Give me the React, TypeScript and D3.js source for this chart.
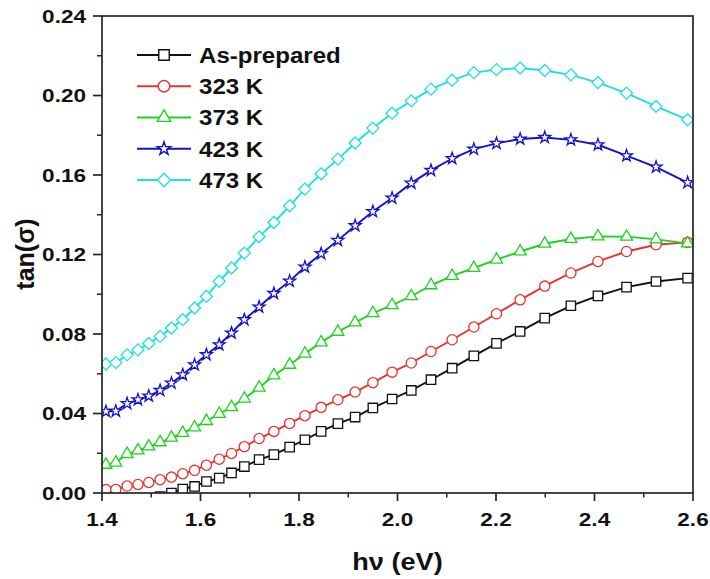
import React, { useEffect, useRef } from 'react';
import * as d3 from 'd3';

// photon energy (eV), same for all samples
const hv = [1.408, 1.428, 1.451, 1.473, 1.495, 1.518, 1.541, 1.564, 1.588, 1.612,
  1.638, 1.663, 1.689, 1.719, 1.749, 1.781, 1.812, 1.845, 1.879, 1.914,
  1.950, 1.989, 2.028, 2.068, 2.111, 2.155, 2.201, 2.249, 2.299, 2.352,
  2.407, 2.465, 2.525, 2.589];

// tan(sigma)
const asPrepared = [-0.012, -0.0095, -0.0075, -0.0055, -0.0035, -0.0018, 0.0000, 0.0020, 0.0033, 0.0058,
  0.0075, 0.0101, 0.0133, 0.0168, 0.0193, 0.0231, 0.0268, 0.0310, 0.0349, 0.0382,
  0.0428, 0.0473, 0.0516, 0.0570, 0.0628, 0.0690, 0.0753, 0.0813, 0.0880, 0.0942,
  0.0992, 0.1036, 0.1064, 0.1081];
const k323 = [0.0017, 0.0018, 0.0035, 0.0043, 0.0053, 0.0067, 0.0080, 0.0097, 0.0114, 0.0140,
  0.0170, 0.0199, 0.0233, 0.0274, 0.0310, 0.0350, 0.0389, 0.0431, 0.0469, 0.0508,
  0.0555, 0.0608, 0.0654, 0.0712, 0.0771, 0.0835, 0.0902, 0.0972, 0.1041, 0.1107,
  0.1165, 0.1215, 0.1249, 0.1261];
const k373 = [0.0142, 0.0153, 0.0196, 0.0214, 0.0234, 0.0255, 0.0278, 0.0302, 0.0330, 0.0362,
  0.0398, 0.0432, 0.0475, 0.0530, 0.0592, 0.0645, 0.0701, 0.0758, 0.0811, 0.0858,
  0.0905, 0.0945, 0.0990, 0.1045, 0.1092, 0.1132, 0.1174, 0.1215, 0.1254, 0.1278,
  0.1291, 0.1290, 0.1276, 0.1256];
const k423 = [0.0410, 0.0412, 0.0450, 0.0469, 0.0488, 0.0516, 0.0553, 0.0595, 0.0645, 0.0696,
  0.0746, 0.0805, 0.0872, 0.0936, 0.1004, 0.1066, 0.1137, 0.1204, 0.1271, 0.1345,
  0.1416, 0.1484, 0.1559, 0.1623, 0.1683, 0.1730, 0.1759, 0.1781, 0.1789, 0.1777,
  0.1752, 0.1697, 0.1640, 0.1562];
const k473 = [0.0649, 0.0656, 0.0695, 0.0720, 0.0752, 0.0788, 0.0830, 0.0872, 0.0931, 0.0989,
  0.1065, 0.1132, 0.1207, 0.1289, 0.1361, 0.1445, 0.1529, 0.1606, 0.1680, 0.1761,
  0.1836, 0.1911, 0.1973, 0.2032, 0.2077, 0.2115, 0.2130, 0.2138, 0.2126, 0.2104,
  0.2065, 0.2012, 0.1945, 0.1878];

const labels = ['As-prepared', '323 K', '373 K', '423 K', '473 K'];
const colors = ['#111111', '#e8332e', '#1fd41f', '#1212c8', '#1fe0e0'];
const xTicks = [1.4, 1.6, 1.8, 2.0, 2.2, 2.4, 2.6];
const yTicks = [0.00, 0.04, 0.08, 0.12, 0.16, 0.20, 0.24];

// square rotated 45 deg, r = half diagonal
const diamond = {
  draw(ctx: any, size: number) {
    const r = Math.sqrt(size) * 0.62625;
    ctx.moveTo(0, -r);
    ctx.lineTo(r, 0);
    ctx.lineTo(0, r);
    ctx.lineTo(-r, 0);
    ctx.closePath();
  }
};

const FONT = '"Liberation Sans", Arial, sans-serif';

export default function App() {
  const ref = useRef<SVGSVGElement>(null);

  useEffect(() => {
    const width = 710, height = 579;
    const margin = { top: 16, right: 17, bottom: 86, left: 102 };
    const w = width - margin.left - margin.right;
    const h = height - margin.top - margin.bottom;

    const svg = d3.select(ref.current);
    svg.selectAll('*').remove();

    const x = d3.scaleLinear().domain([1.4, 2.6]).range([margin.left, margin.left + w]);
    const y = d3.scaleLinear().domain([0, 0.24]).range([margin.top + h, margin.top]);

    const series = [asPrepared, k323, k373, k423, k473];
    const symbols: any[] = [d3.symbolSquare, d3.symbolCircle, d3.symbolTriangle, d3.symbolStar, diamond];
    const sizes = [88, 82, 62, 44, 92];

    svg.append('defs').append('clipPath').attr('id', 'plot-clip')
      .append('rect')
      .attr('x', margin.left).attr('y', margin.top)
      .attr('width', w).attr('height', h);

    const plot = svg.append('g').attr('clip-path', 'url(#plot-clip)');

    const line = d3.line<number>()
      .x((d, i) => x(hv[i]))
      .y(d => y(d));

    series.forEach((vals, s) => {
      const g = plot.append('g');
      g.append('path')
        .attr('d', line(vals))
        .attr('fill', 'none')
        .attr('stroke', colors[s])
        .attr('stroke-width', 1.9);
      g.selectAll('path.m')
        .data(vals)
        .enter().append('path')
        .attr('class', 'm')
        .attr('transform', (d, i) => 'translate(' + x(hv[i]) + ',' + y(d) + ')')
        .attr('d', d3.symbol().type(symbols[s]).size(sizes[s])())
        .attr('fill', '#fff')
        .attr('stroke', colors[s])
        .attr('stroke-width', 1.3);
    });

    // frame
    const frame = '#262626';
    svg.append('rect')
      .attr('x', margin.left).attr('y', margin.top)
      .attr('width', w).attr('height', h)
      .attr('fill', 'none').attr('stroke', frame).attr('stroke-width', 1.7);

    // y ticks
    const yMinor = d3.range(0.02, 0.24, 0.04);
    svg.append('g').selectAll('line')
      .data(yTicks).enter().append('line')
      .attr('x1', margin.left - 9).attr('x2', margin.left)
      .attr('y1', d => y(d)).attr('y2', d => y(d))
      .attr('stroke', frame).attr('stroke-width', 1.7);
    svg.append('g').selectAll('line')
      .data(yMinor).enter().append('line')
      .attr('x1', margin.left - 5).attr('x2', margin.left)
      .attr('y1', d => y(d)).attr('y2', d => y(d))
      .attr('stroke', frame).attr('stroke-width', 1.5);
    svg.append('g').selectAll('text')
      .data(yTicks).enter().append('text')
      .attr('transform', d => 'translate(86,' + (y(d) + 6.5) + ') scale(1.22,1)')
      .attr('text-anchor', 'end')
      .attr('font-family', FONT).attr('font-weight', 'bold').attr('font-size', 18.5)
      .attr('fill', '#111')
      .text(d => d.toFixed(2));

    // x ticks
    const xMinor = d3.range(1.5, 2.6, 0.2);
    svg.append('g').selectAll('line')
      .data(xTicks).enter().append('line')
      .attr('x1', d => x(d)).attr('x2', d => x(d))
      .attr('y1', margin.top + h).attr('y2', margin.top + h + 8)
      .attr('stroke', frame).attr('stroke-width', 1.7);
    svg.append('g').selectAll('line')
      .data(xMinor).enter().append('line')
      .attr('x1', d => x(d)).attr('x2', d => x(d))
      .attr('y1', margin.top + h).attr('y2', margin.top + h + 4.5)
      .attr('stroke', frame).attr('stroke-width', 1.5);
    svg.append('g').selectAll('text')
      .data(xTicks).enter().append('text')
      .attr('transform', d => 'translate(' + x(d) + ',525.5) scale(1.22,1)')
      .attr('text-anchor', 'middle')
      .attr('font-family', FONT).attr('font-weight', 'bold').attr('font-size', 18.5)
      .attr('fill', '#111')
      .text(d => d.toFixed(1));

    // axis titles
    svg.append('text')
      .attr('transform', 'translate(' + (margin.left + w / 2) + ',570) scale(1.13,1)')
      .attr('text-anchor', 'middle')
      .attr('font-family', FONT).attr('font-weight', 'bold').attr('font-size', 24)
      .attr('fill', '#111')
      .text('h\u03bd (eV)');
    svg.append('text')
      .attr('transform', 'translate(34,254) rotate(-90)')
      .attr('text-anchor', 'middle')
      .attr('font-family', FONT).attr('font-weight', 'bold').attr('font-size', 25)
      .attr('fill', '#111')
      .text('tan(\u03c3)');

    // legend
    const legend = svg.append('g');
    labels.forEach((lab, s) => {
      const ly = 55 + s * 31.25;
      legend.append('line')
        .attr('x1', 137).attr('x2', 191)
        .attr('y1', ly).attr('y2', ly)
        .attr('stroke', colors[s]).attr('stroke-width', 1.9);
      legend.append('path')
        .attr('transform', 'translate(164,' + ly + ')')
        .attr('d', d3.symbol().type(symbols[s]).size(sizes[s] * 1.25)())
        .attr('fill', '#fff')
        .attr('stroke', colors[s])
        .attr('stroke-width', 1.4);
      legend.append('text')
        .attr('transform', 'translate(199,' + (ly + 7.8) + ') scale(1.12,1)')
        .attr('font-family', FONT).attr('font-weight', 'bold').attr('font-size', 21.5)
        .attr('fill', '#111')
        .text(lab);
    });
  }, []);

  return (
    <svg ref={ref} width={710} height={579}
      style={{ position: 'absolute', left: 0, top: 0, background: '#fff' }} />
  );
}
